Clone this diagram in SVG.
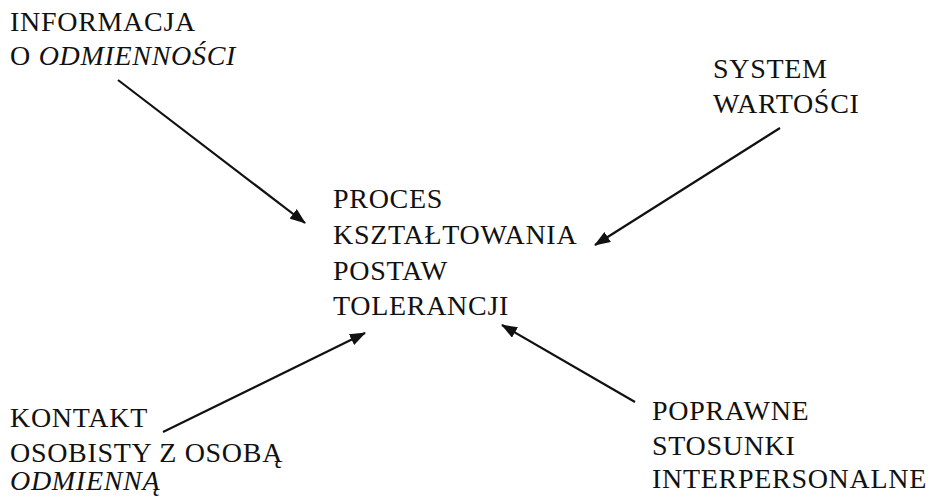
<svg xmlns="http://www.w3.org/2000/svg" width="929" height="496" viewBox="0 0 929 496">
<defs>
<style>
.t{font-family:'Liberation Serif','Times New Roman',serif;font-size:28px;fill:#111;letter-spacing:0.7px}
.i{font-style:italic}
.c line{stroke:#111;stroke-width:2.2}
</style>
<marker id="ah" viewBox="0 0 16 12" refX="15" refY="6" markerWidth="16" markerHeight="12" markerUnits="userSpaceOnUse" orient="auto">
<path d="M0,0 L16,6 L0,12 Z" fill="#111"/>
</marker>
</defs>
<rect width="929" height="496" fill="#fff"/>
<g id="informacja" class="t">
<text x="10" y="31">INFORMACJA</text>
<text x="10" y="65">O <tspan class="i">ODMIENNOŚCI</tspan></text>
</g>
<g id="system" class="t">
<text x="713" y="78">SYSTEM</text>
<text x="713" y="113">WARTOŚCI</text>
</g>
<g id="proces" class="t">
<text x="333" y="208">PROCES</text>
<text x="333" y="244">KSZTAŁTOWANIA</text>
<text x="333" y="280">POSTAW</text>
<text x="333" y="315">TOLERANCJI</text>
</g>
<g id="kontakt" class="t">
<text x="10" y="427">KONTAKT</text>
<text x="10" y="462">OSOBISTY Z OSOBĄ</text>
<text x="10" y="490" class="i">ODMIENNĄ</text>
</g>
<g id="poprawne" class="t">
<text x="652" y="420">POPRAWNE</text>
<text x="652" y="455">STOSUNKI</text>
<text x="652" y="488">INTERPERSONALNE</text>
</g>
<g id="connectors" class="c">
<line x1="118" y1="80" x2="305" y2="223" marker-end="url(#ah)"/>
<line x1="780" y1="128" x2="595" y2="245" marker-end="url(#ah)"/>
<line x1="163" y1="432" x2="365" y2="333" marker-end="url(#ah)"/>
<line x1="635" y1="402" x2="502" y2="325" marker-end="url(#ah)"/>
</g>
</svg>
